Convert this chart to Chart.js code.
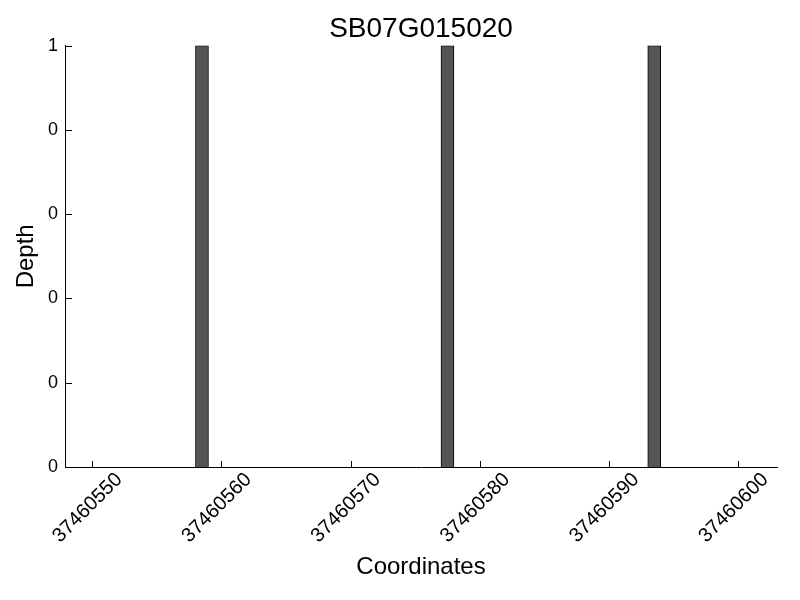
<!DOCTYPE html>
<html>
<head>
<meta charset="utf-8">
<script src="https://cdn.jsdelivr.net/npm/chart.js@4"></script>
<style>
  body { margin: 0; background: #fff; }
  #wrap { width: 800px; height: 600px; }
</style>
</head>
<body>
<div id="wrap"><canvas id="depthChart" width="800" height="600"></canvas></div>
<script>
// bar centres (coordinate + half a base) and depth
const positions = [37460558.5, 37460577.5, 37460593.5];
const depths = [1, 1, 1];
const xTicks = [37460550, 37460560, 37460570, 37460580, 37460590, 37460600];
const yTicks = [0, 0.2, 0.4, 0.6, 0.8, 1];

const FONT = "'Liberation Sans', Arial, sans-serif";

// gnuplot style inward tick marks
const inwardTicks = {
    id: 'inwardTicks',
    afterDatasetsDraw(chart) {
        const c = chart.ctx;
        const xs = chart.scales.x, ys = chart.scales.y;
        const a = chart.chartArea;
        c.save();
        c.strokeStyle = '#000';
        c.lineWidth = 1;
        c.beginPath();
        xTicks.forEach(v => {
            const px = Math.round(xs.getPixelForValue(v)) + 0.5;
            c.moveTo(px, a.bottom);
            c.lineTo(px, a.bottom - 6);
        });
        yTicks.forEach(v => {
            const py = Math.round(ys.getPixelForValue(v)) + 0.5;
            c.moveTo(a.left, py);
            c.lineTo(a.left + 7, py);
        });
        c.stroke();
        c.restore();
    }
};

const ctx = document.getElementById('depthChart').getContext('2d');
const myChart = new Chart(ctx, {
    type: 'bar',
    data: {
        datasets: [{
            label: 'Depth',
            data: positions.map((p, i) => ({ x: p, y: depths[i] })),
            backgroundColor: '#555555',
            borderColor: '#000000',
            borderWidth: 1,
            borderSkipped: 'start',
            barThickness: 13
        }]
    },
    options: {
        responsive: false,
        animation: false,
        layout: { padding: { top: 0, right: 23, bottom: 0, left: 0 } },
        plugins: {
            legend: { display: false },
            tooltip: { enabled: false },
            title: {
                display: true,
                text: 'SB07G015020',
                fullSize: false,
                color: '#000',
                font: { family: FONT, size: 28, weight: 'normal' },
                padding: { top: 12, bottom: 0 }
            }
        },
        scales: {
            x: {
                type: 'linear',
                offset: false,
                min: 37460547.9,
                max: 37460603,
                afterFit: s => { s.height = 133; },
                afterBuildTicks: s => { s.ticks = xTicks.map(v => ({ value: v })); },
                grid: { display: false, offset: false },
                border: { display: true, color: '#000', width: 1 },
                ticks: {
                    autoSkip: false,
                    maxRotation: 45,
                    minRotation: 45,
                    labelOffset: 27,
                    padding: -7,
                    color: '#000',
                    font: { family: FONT, size: 20 },
                    callback: v => String(v)
                },
                title: {
                    display: true,
                    text: 'Coordinates',
                    color: '#000',
                    font: { family: FONT, size: 24 },
                    padding: { top: 0, bottom: 18 }
                }
            },
            y: {
                min: 0,
                max: 1,
                afterFit: s => { s.width = 65; },
                afterBuildTicks: s => { s.ticks = yTicks.map(v => ({ value: v })); },
                grid: { display: false },
                border: { display: true, color: '#000', width: 1 },
                ticks: {
                    padding: -1,
                    color: '#000',
                    font: { family: FONT, size: 18 },
                    callback: v => Math.floor(v + 1e-9).toString()
                },
                title: {
                    display: true,
                    text: 'Depth',
                    color: '#000',
                    font: { family: FONT, size: 24 },
                    padding: { top: 12, bottom: 0 }
                }
            }
        }
    },
    plugins: [inwardTicks]
});
</script>
</body>
</html>
